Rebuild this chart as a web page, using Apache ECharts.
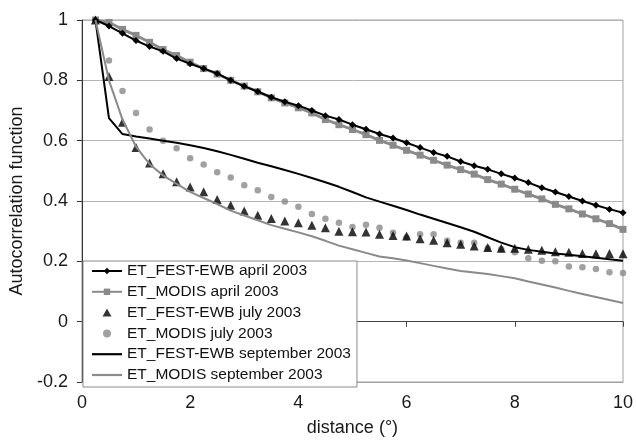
<!DOCTYPE html>
<html>
<head>
<meta charset="utf-8">
<script src="https://cdn.jsdelivr.net/npm/echarts@6/dist/echarts.min.js"></script>
<style>
html,body{margin:0;padding:0;background:#fff;}
#chart{width:636px;height:442px;}
</style>
</head>
<body>
<div id="chart"></div>
<script>
const distances = [0.25,0.5,0.75,1,1.25,1.5,1.75,2,2.25,2.5,2.75,3,3.25,3.5,3.75,4,4.25,4.5,4.75,5,5.25,5.5,5.75,6,6.25,6.5,6.75,7,7.25,7.5,7.75,8,8.25,8.5,8.75,9,9.25,9.5,9.75,10];

const festApril = [1.0,0.98,0.956,0.932,0.912,0.896,0.872,0.855,0.839,0.823,0.80,0.78,0.763,0.744,0.729,0.716,0.70,0.683,0.670,0.653,0.638,0.622,0.609,0.593,0.577,0.561,0.548,0.531,0.517,0.505,0.49,0.476,0.461,0.444,0.43,0.415,0.40,0.386,0.373,0.361];

const modisApril = [1.0,0.992,0.969,0.949,0.926,0.902,0.882,0.86,0.839,0.821,0.80,0.781,0.762,0.742,0.725,0.709,0.692,0.670,0.653,0.637,0.62,0.601,0.585,0.568,0.552,0.535,0.519,0.504,0.489,0.471,0.456,0.439,0.423,0.407,0.389,0.374,0.357,0.341,0.325,0.306];

const festJuly = [1.0,0.813,0.661,0.577,0.526,0.49,0.464,0.446,0.431,0.405,0.386,0.367,0.353,0.342,0.334,0.328,0.32,0.311,0.30,0.298,0.297,0.29,0.286,0.284,0.275,0.27,0.262,0.257,0.251,0.246,0.243,0.243,0.24,0.237,0.232,0.23,0.226,0.225,0.226,0.225];

const modisJuly = [1.0,0.866,0.765,0.692,0.637,0.60,0.575,0.542,0.521,0.495,0.478,0.452,0.436,0.413,0.398,0.381,0.357,0.341,0.328,0.314,0.321,0.311,0.295,0.279,0.29,0.29,0.268,0.262,0.262,0.243,0.24,0.23,0.21,0.202,0.20,0.183,0.18,0.175,0.164,0.161];

const festSeptember = [1.0,0.675,0.622,0.614,0.607,0.60,0.593,0.585,0.576,0.565,0.553,0.54,0.527,0.515,0.503,0.49,0.476,0.462,0.447,0.43,0.412,0.398,0.384,0.37,0.355,0.341,0.327,0.313,0.298,0.28,0.262,0.247,0.238,0.232,0.226,0.222,0.217,0.212,0.207,0.202];

const modisSeptember = [1.0,0.80,0.67,0.58,0.522,0.485,0.457,0.43,0.41,0.39,0.368,0.352,0.336,0.32,0.308,0.296,0.283,0.268,0.252,0.24,0.228,0.216,0.21,0.203,0.194,0.185,0.176,0.168,0.163,0.158,0.151,0.144,0.133,0.123,0.113,0.102,0.092,0.082,0.072,0.062];

const seriesNames = ['ET_FEST-EWB april 2003','ET_MODIS april 2003','ET_FEST-EWB july 2003','ET_MODIS july 2003','ET_FEST-EWB september 2003','ET_MODIS september 2003'];

const xTicks = [0,2,4,6,8,10];
const yTicks = [-0.2,0,0.2,0.4,0.6,0.8,1];

function pairs(vals){ return distances.map((d,i)=>[d, vals[i]]); }

const FONT = 'Liberation Sans, Arial, sans-serif';
const BLACK = '#000000';
const GREY = '#8a8a8a';
const lineIcon = 'path://M0,0H30V2.2H0Z';
const triIcon = 'path://M5,0L10,9L0,9Z';

const chart = echarts.init(document.getElementById('chart'), null, {renderer:'canvas'});
chart.setOption({
  animation: false,
  backgroundColor: '#ffffff',
  textStyle: {fontFamily: FONT},
  grid: {left: 77.5, right: 10, top: 20, bottom: 57, show: true, borderColor: '#a0a0a0', borderWidth: 1, backgroundColor: 'transparent'},
  xAxis: [{
    type: 'value', min: xTicks[0], max: xTicks[xTicks.length-1], interval: 2,
    position: 'bottom',
    axisLine: {show: true, onZero: false, lineStyle: {color: '#a0a0a0', width: 1}},
    axisTick: {show: false},
    splitLine: {show: false},
    axisLabel: {fontSize: 18, color: '#1a1a1a', fontFamily: FONT, margin: 12},
    name: 'distance (°)', nameLocation: 'middle', nameGap: 37,
    nameTextStyle: {fontSize: 18, color: '#1a1a1a', fontFamily: FONT}
  },{
    type: 'value', min: xTicks[0], max: xTicks[xTicks.length-1], interval: 2,
    position: 'bottom',
    axisLine: {show: true, onZero: true, lineStyle: {color: '#444444', width: 1}},
    axisTick: {show: true, length: 5, lineStyle: {color: '#444444'}},
    splitLine: {show: false},
    axisLabel: {show: false}
  }],
  yAxis: {
    type: 'value', min: yTicks[0], max: yTicks[yTicks.length-1], interval: 0.2,
    axisLine: {show: true, onZero: false, lineStyle: {color: '#333333', width: 1}},
    axisTick: {show: true, length: 5, lineStyle: {color: '#333333'}},
    splitLine: {show: true, lineStyle: {color: '#b4b4b4', width: 1}},
    axisLabel: {fontSize: 18, color: '#1a1a1a', fontFamily: FONT, margin: 14},
    name: 'Autocorrelation function', nameLocation: 'middle', nameGap: 49,
    nameTextStyle: {fontSize: 18, color: '#1a1a1a', fontFamily: FONT}
  },
  legend: {
    orient: 'vertical', left: 83, top: 261,
    itemWidth: 30, itemHeight: 8, itemGap: 4.8,
    padding: [2, 6, 4, 8],
    borderColor: '#8a8a8a', borderWidth: 1, backgroundColor: '#ffffff',
    symbolKeepAspect: true,
    textStyle: {fontSize: 15.5, lineHeight: 16, color: '#111111', fontFamily: FONT},
    data: [
      {name: seriesNames[0]},
      {name: seriesNames[1]},
      {name: seriesNames[2], icon: triIcon},
      {name: seriesNames[3], icon: 'circle'},
      {name: seriesNames[4], icon: lineIcon},
      {name: seriesNames[5], icon: lineIcon}
    ],
    z: 10
  },
  series: [
    {name: seriesNames[0], type: 'line', data: pairs(festApril), xAxisIndex: 0,
     symbol: 'diamond', symbolSize: 7, showSymbol: true,
     itemStyle: {color: BLACK}, lineStyle: {color: BLACK, width: 2}, z: 3},
    {name: seriesNames[1], type: 'line', data: pairs(modisApril), xAxisIndex: 0,
     symbol: 'rect', symbolSize: 7, showSymbol: true,
     itemStyle: {color: GREY}, lineStyle: {color: GREY, width: 2.8}, z: 2},
    {name: seriesNames[2], type: 'scatter', data: pairs(festJuly), xAxisIndex: 0,
     symbol: 'triangle', symbolSize: 9, itemStyle: {color: BLACK}, z: 3},
    {name: seriesNames[3], type: 'scatter', data: pairs(modisJuly), xAxisIndex: 0,
     symbol: 'circle', symbolSize: 6.5, itemStyle: {color: GREY}, z: 2},
    {name: seriesNames[4], type: 'line', data: pairs(festSeptember), xAxisIndex: 0,
     symbol: 'none', itemStyle: {color: BLACK}, lineStyle: {color: BLACK, width: 2}, z: 4},
    {name: seriesNames[5], type: 'line', data: pairs(modisSeptember), xAxisIndex: 0,
     symbol: 'none', itemStyle: {color: GREY}, lineStyle: {color: GREY, width: 2}, z: 4}
  ]
});
</script>
</body>
</html>
